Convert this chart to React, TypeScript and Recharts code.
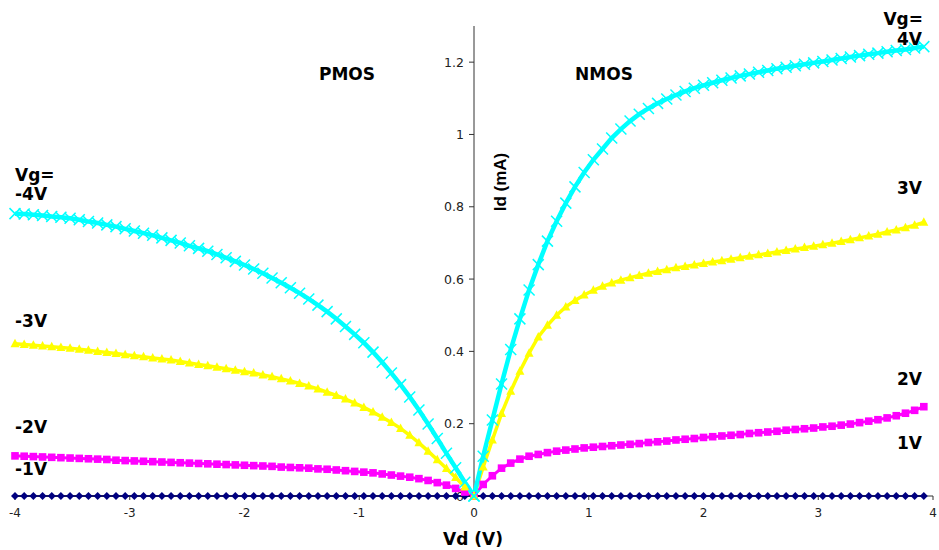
import { LineChart, Line, XAxis, YAxis, ReferenceLine, ReferenceDot } from "recharts";

// Drain voltage sweep, 0.08 V steps
const pmosVd = [
  -4, -3.92, -3.84, -3.76, -3.68, -3.6, -3.52, -3.44, -3.36, -3.28, -3.2, -3.12, -3.04,
  -2.96, -2.88, -2.8, -2.72, -2.64, -2.56, -2.48, -2.4, -2.32, -2.24, -2.16, -2.08, -2,
  -1.92, -1.84, -1.76, -1.68, -1.6, -1.52, -1.44, -1.36, -1.28, -1.2, -1.12, -1.04,
  -0.96, -0.88, -0.8, -0.72, -0.64, -0.56, -0.48, -0.4, -0.32, -0.24, -0.16, -0.08, 0,
];
const nmosVd = [
  0, 0.08, 0.16, 0.24, 0.32, 0.4, 0.48, 0.56, 0.64, 0.72, 0.8, 0.88, 0.96, 1.04, 1.12,
  1.2, 1.28, 1.36, 1.44, 1.52, 1.6, 1.68, 1.76, 1.84, 1.92, 2, 2.08, 2.16, 2.24, 2.32,
  2.4, 2.48, 2.56, 2.64, 2.72, 2.8, 2.88, 2.96, 3.04, 3.12, 3.2, 3.28, 3.36, 3.44, 3.52,
  3.6, 3.68, 3.76, 3.84, 3.92,
];

// |Id| in mA, PMOS side (Vg = -1 .. -4 V)
const pmosVg1 = [
  0, 0, 0, 0, 0, 0, 0, 0, 0, 0, 0, 0, 0, 0, 0, 0, 0, 0, 0, 0, 0, 0, 0, 0, 0, 0,
  0, 0, 0, 0, 0, 0, 0, 0, 0, 0, 0, 0, 0, 0, 0, 0, 0, 0, 0, 0, 0, 0, 0, 0, 0,
];
const pmosVg2 = [
  0.111, 0.11, 0.109, 0.108, 0.107, 0.106, 0.105, 0.104, 0.103, 0.102,
  0.101, 0.099, 0.098, 0.097, 0.096, 0.095, 0.094, 0.093, 0.092, 0.091,
  0.09, 0.089, 0.088, 0.087, 0.086, 0.085, 0.084, 0.083, 0.082, 0.08,
  0.079, 0.078, 0.077, 0.075, 0.074, 0.072, 0.07, 0.068, 0.066, 0.064,
  0.061, 0.058, 0.055, 0.052, 0.048, 0.043, 0.037, 0.03, 0.021, 0.011, 0,
];
const pmosVg3 = [
  0.421, 0.419, 0.417, 0.415, 0.413, 0.411, 0.409, 0.406, 0.403, 0.4,
  0.397, 0.394, 0.391, 0.388, 0.385, 0.382, 0.379, 0.376, 0.372, 0.368,
  0.364, 0.36, 0.356, 0.352, 0.348, 0.344, 0.34, 0.335, 0.33, 0.324,
  0.318, 0.311, 0.304, 0.296, 0.287, 0.278, 0.268, 0.257, 0.245, 0.232,
  0.218, 0.203, 0.187, 0.168, 0.147, 0.124, 0.1, 0.076, 0.051, 0.025, 0,
];
const pmosVg4 = [
  0.781, 0.78, 0.778, 0.776, 0.773, 0.771, 0.768, 0.764, 0.759, 0.755,
  0.75, 0.745, 0.739, 0.733, 0.727, 0.721, 0.714, 0.707, 0.7, 0.692,
  0.685, 0.677, 0.668, 0.659, 0.649, 0.639, 0.628, 0.616, 0.603, 0.59,
  0.576, 0.561, 0.545, 0.528, 0.51, 0.49, 0.469, 0.447, 0.424, 0.398,
  0.37, 0.34, 0.308, 0.274, 0.238, 0.199, 0.159, 0.118, 0.078, 0.038, 0,
];

// Id in mA, NMOS side (Vg = 1 .. 4 V)
const nmosVg1 = [
  0, 0, 0, 0, 0, 0, 0, 0, 0, 0, 0, 0, 0, 0, 0, 0, 0, 0, 0, 0, 0, 0, 0, 0, 0,
  0, 0, 0, 0, 0, 0, 0, 0, 0, 0, 0, 0, 0, 0, 0, 0, 0, 0, 0, 0, 0, 0, 0, 0, 0,
];
const nmosVg2 = [
  0, 0.032, 0.056, 0.077, 0.091, 0.102, 0.11, 0.115, 0.12, 0.124,
  0.127, 0.13, 0.133, 0.135, 0.137, 0.139, 0.141, 0.143, 0.145, 0.148,
  0.15, 0.152, 0.155, 0.157, 0.159, 0.162, 0.164, 0.166, 0.168, 0.17,
  0.173, 0.175, 0.177, 0.179, 0.182, 0.184, 0.186, 0.188, 0.191, 0.193,
  0.196, 0.199, 0.203, 0.207, 0.211, 0.216, 0.222, 0.229, 0.237, 0.247,
];
const nmosVg3 = [
  0, 0.08, 0.155, 0.228, 0.29, 0.345, 0.395, 0.44, 0.472, 0.5,
  0.523, 0.541, 0.556, 0.569, 0.58, 0.589, 0.597, 0.604, 0.61, 0.616,
  0.621, 0.626, 0.631, 0.635, 0.639, 0.643, 0.647, 0.651, 0.655, 0.659,
  0.663, 0.667, 0.671, 0.675, 0.679, 0.683, 0.687, 0.691, 0.695, 0.699,
  0.704, 0.709, 0.714, 0.719, 0.724, 0.73, 0.736, 0.742, 0.749, 0.757,
];
const nmosVg4 = [
  0, 0.11, 0.21, 0.31, 0.405, 0.49, 0.57, 0.64, 0.705, 0.76,
  0.81, 0.855, 0.895, 0.93, 0.96, 0.99, 1.015, 1.037, 1.056, 1.072,
  1.086, 1.098, 1.109, 1.119, 1.128, 1.136, 1.143, 1.15, 1.156, 1.162,
  1.167, 1.172, 1.177, 1.182, 1.186, 1.19, 1.194, 1.198, 1.202, 1.206,
  1.21, 1.214, 1.218, 1.222, 1.225, 1.229, 1.232, 1.235, 1.239, 1.243,
];

const xTicks = [-4, -3, -2, -1, 0, 1, 2, 3, 4];
const yTicks = [0, 0.2, 0.4, 0.6, 0.8, 1, 1.2];

const toRows = (vd: number[], id: number[]) => vd.map((v, i) => ({ vd: v, id: id[i] }));

type MarkerKind = "diamond" | "square" | "triangle" | "cross";

function Marker({ cx, cy, kind, color }: { cx: number; cy: number; kind: MarkerKind; color: string }) {
  if (cx == null || cy == null) return null;
  if (kind === "diamond") {
    return <path d={`M${cx},${cy - 4}L${cx + 4},${cy}L${cx},${cy + 4}L${cx - 4},${cy}Z`} fill={color} />;
  }
  if (kind === "square") {
    return <rect x={cx - 3.8} y={cy - 3.8} width={7.6} height={7.6} fill={color} />;
  }
  if (kind === "triangle") {
    return <path d={`M${cx},${cy - 5}L${cx + 4.5},${cy + 3.5}L${cx - 4.5},${cy + 3.5}Z`} fill={color} />;
  }
  return (
    <path
      d={`M${cx - 5.5},${cy - 5.5}L${cx + 5.5},${cy + 5.5}M${cx - 5.5},${cy + 5.5}L${cx + 5.5},${cy - 5.5}`}
      stroke={color}
      strokeWidth={1.5}
      fill="none"
    />
  );
}

const series = [
  { name: "pmos-1", vd: pmosVd, id: pmosVg1, color: "#000080", width: 2, kind: "diamond" as MarkerKind },
  { name: "nmos-1", vd: nmosVd, id: nmosVg1, color: "#000080", width: 2, kind: "diamond" as MarkerKind },
  { name: "pmos-2", vd: pmosVd, id: pmosVg2, color: "#FF00FF", width: 3, kind: "square" as MarkerKind },
  { name: "nmos-2", vd: nmosVd, id: nmosVg2, color: "#FF00FF", width: 3, kind: "square" as MarkerKind },
  { name: "pmos-3", vd: pmosVd, id: pmosVg3, color: "#FFFF00", width: 3.5, kind: "triangle" as MarkerKind },
  { name: "nmos-3", vd: nmosVd, id: nmosVg3, color: "#FFFF00", width: 3.5, kind: "triangle" as MarkerKind },
  { name: "pmos-4", vd: pmosVd, id: pmosVg4, color: "#00FFFF", width: 4.5, kind: "cross" as MarkerKind },
  { name: "nmos-4", vd: nmosVd, id: nmosVg4, color: "#00FFFF", width: 4.5, kind: "cross" as MarkerKind },
];

const bold = { fontFamily: "DejaVu Sans", fontWeight: 700, fontSize: 17, fill: "#000" };

function YTick({ cx, cy, value }: { cx: number; cy: number; value: number }) {
  return (
    <g>
      <line x1={cx - 5} x2={cx} y1={cy} y2={cy} stroke="#333" strokeWidth={1} />
      <text x={cx - 10} y={cy} dy="0.36em" textAnchor="end" fontFamily="DejaVu Sans" fontSize={12.5} fill="#222">
        {value}
      </text>
    </g>
  );
}

export default function App() {
  return (
    <div style={{ position: "fixed", left: 0, top: 0, width: 939, height: 550, background: "#fff" }}>
      <LineChart width={939} height={550} margin={{ top: 26, right: 6, left: 15, bottom: 0 }}>
        <XAxis
          type="number"
          dataKey="vd"
          domain={[-4, 4]}
          ticks={xTicks}
          height={54}
          tickSize={4}
          tickMargin={8}
          axisLine={{ stroke: "#333" }}
          tickLine={{ stroke: "#333" }}
          tick={{ fontSize: 12, fill: "#222", fontFamily: "DejaVu Sans" }}
        />
        <YAxis hide type="number" domain={[0, 1.3]} />
        <ReferenceLine x={0} stroke="#333" strokeWidth={1} />
        {yTicks.map((t) => (
          <ReferenceDot
            key={t}
            x={0}
            y={t}
            r={0}
            ifOverflow="visible"
            shape={(p: any) => <YTick cx={p.cx} cy={p.cy} value={t} />}
          />
        ))}
        {series.map((s) => (
          <Line
            key={s.name}
            data={toRows(s.vd, s.id)}
            dataKey="id"
            type="linear"
            stroke={s.color}
            strokeWidth={s.width}
            isAnimationActive={false}
            activeDot={false}
            dot={(p: any) => (
              <Marker key={`${s.name}-${p.index}`} cx={p.cx} cy={p.cy} kind={s.kind} color={s.color} />
            )}
          />
        ))}
      </LineChart>
      <svg width={939} height={550} style={{ position: "absolute", left: 0, top: 0, pointerEvents: "none" }}>
        <text x={347} y={80} textAnchor="middle" {...bold}>PMOS</text>
        <text x={604} y={80} textAnchor="middle" {...bold}>NMOS</text>
        <text x={923} y={25} textAnchor="end" {...bold}>Vg=</text>
        <text x={922} y={45} textAnchor="end" {...bold}>4V</text>
        <text x={922} y={194} textAnchor="end" {...bold}>3V</text>
        <text x={922} y={385} textAnchor="end" {...bold}>2V</text>
        <text x={922} y={449} textAnchor="end" {...bold}>1V</text>
        <text x={15} y={181} {...bold}>Vg=</text>
        <text x={15} y={200} {...bold}>-4V</text>
        <text x={15} y={327} {...bold}>-3V</text>
        <text x={15} y={433} {...bold}>-2V</text>
        <text x={15} y={475} {...bold}>-1V</text>
        <text x={473} y={545} textAnchor="middle" {...bold}>Vd (V)</text>
        <text
          transform="translate(505.5,182) rotate(-90)"
          textAnchor="middle"
          fontFamily="Liberation Sans"
          fontWeight={700}
          fontSize={17}
          fill="#000"
        >
          Id (mA)
        </text>
      </svg>
    </div>
  );
}
